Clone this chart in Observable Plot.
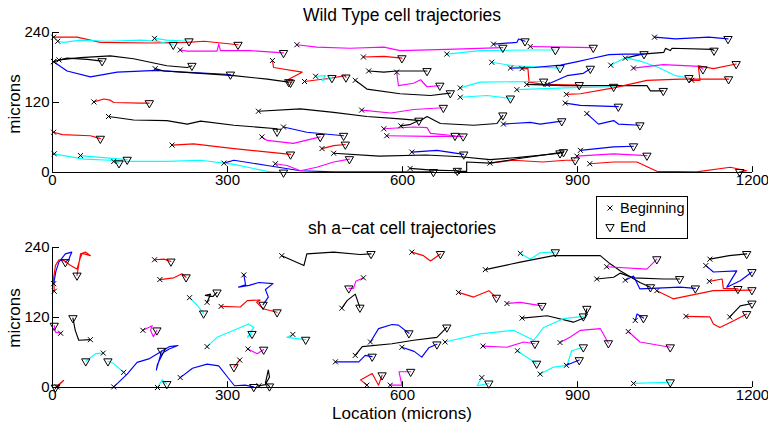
<!DOCTYPE html>
<html>
<head>
<meta charset="utf-8">
<script src="https://cdn.jsdelivr.net/npm/d3@7"></script>
<script src="https://cdn.jsdelivr.net/npm/@observablehq/plot@0.6"></script>
<style>
  body { margin: 0; background: white; }
  #wrap { position: relative; width: 768px; height: 422px; background: white; font-family: "Liberation Sans", Arial, sans-serif; color: black; overflow: hidden; }
  .abs { position: absolute; }
  .title { left: 52px; width: 700px; text-align: center; font-size: 17.5px; line-height: 20px; white-space: nowrap; }
  .xlab { left: 52px; width: 700px; text-align: center; font-size: 17px; line-height: 16px; white-space: nowrap; }
  .ylab { font-size: 17px; line-height: 18px; transform: rotate(-90deg); transform-origin: center; white-space: nowrap; width: 80px; text-align: center; }
</style>
</head>
<body>
<div id="wrap"></div>
<script>
// ---------------- DATA ----------------
const xTicks = [0, 300, 600, 900, 1200];
const yTicks = [0, 120, 240];
const panelTitles = ["Wild Type cell trajectories", "sh a\u2212cat cell trajectories"];
const xLabel = "Location (microns)";
const yLabel = "microns";
const legendLabels = ["Beginning", "End"];
const lineColors = { r: "#ff0000", b: "#0000ff", k: "#000000", m: "#ff00ff", c: "#00ffff" };

// each track: [color, [x0,y0, x1,y1, ...]]  first point = beginning, last = end (microns)
const wildTypeTracks = [
  ["r", [2,232, 42,232, 82,223, 168,222, 231,223, 260,225, 318,219]],
  ["c", [9,225, 19,223, 48,227, 94,225, 151,227, 180,225, 207,219]],
  ["c", [175,230, 196,227, 234,225]],
  ["m", [219,210, 231,208, 282,208, 285,220, 288,209, 339,209, 396,205]],
  ["m", [419,219, 453,215, 510,213, 568,215, 596,209, 676,211, 772,214]],
  ["c", [676,203, 733,209, 819,210, 862,210]],
  ["b", [756,220, 796,223, 799,229, 810,225]],
  ["m", [819,216, 876,215, 927,214]],
  ["b", [1032,232, 1068,229, 1125,232, 1158,229]],
  ["k", [982,196, 1011,203, 1048,206, 1051,213, 1059,209, 1062,213, 1131,211, 1134,209]],
  ["c", [957,184, 982,197, 1011,190, 1039,180, 1068,166, 1091,162]],
  ["c", [753,189, 790,183, 870,179]],
  ["b", [785,179, 825,180, 871,184, 900,190, 922,195, 954,202, 982,203, 1014,203]],
  ["r", [805,178, 815,178, 817,155, 842,151, 903,150]],
  ["k", [813,151, 876,149, 1019,149, 1025,140, 1047,140]],
  ["b", [848,151, 882,166, 910,170, 922,178]],
  ["c", [699,145, 733,155, 836,156, 842,156]],
  ["r", [881,134, 905,135, 962,145, 1019,158, 1076,160, 1159,160]],
  ["c", [796,142, 880,145, 962,147]],
  ["m", [996,179, 1047,185, 1110,182, 1115,177]],
  ["r", [1096,158, 1110,158, 1107,183, 1133,178, 1172,186]],
  ["c", [699,129, 745,132, 785,127]],
  ["b", [879,119, 905,115, 970,113]],
  ["b", [916,101, 936,83, 962,89, 970,83, 1007,81]],
  ["k", [353,105, 425,109, 482,103, 539,96, 596,92, 631,89, 642,96, 665,84, 722,81, 762,84, 772,98]],
  ["b", [773,83, 819,86, 836,83, 873,88]],
  ["m", [530,107, 580,102, 619,108, 670,111]],
  ["k", [597,80, 612,82, 628,89]],
  ["m", [568,75, 619,78, 642,77, 648,67, 690,63]],
  ["m", [573,63, 648,62, 704,62]],
  ["b", [616,35, 659,38, 705,31]],
  ["k", [482,33, 560,28, 640,30, 700,27, 750,22, 800,26, 870,33]],
  ["r", [750,16, 790,21, 840,18, 880,21, 896,21]],
  ["b", [905,38, 962,44, 996,45]],
  ["m", [899,28, 962,32, 1019,29]],
  ["r", [921,15, 962,18, 1002,18, 1036,2, 1104,1, 1162,9, 1190,3, 1178,1]],
  ["b", [294,16, 311,21, 368,12, 425,3, 482,1, 596,1, 653,1]],
  ["k", [613,7, 650,4, 694,3]],
  ["k", [694,2, 710,2, 710,18, 750,16, 800,24, 876,35]],
  ["k", [2,190, 25,196, 60,194, 85,191]],
  ["k", [11,193, 48,197, 99,200, 139,195, 196,183, 231,180, 239,183]],
  ["b", [2,190, 25,174, 65,164, 111,172, 179,175, 225,172, 305,168]],
  ["k", [176,178, 191,174, 254,170, 311,166, 368,160, 405,155]],
  ["k", [519,158, 539,143, 596,135, 648,132, 682,136]],
  ["k", [542,174, 568,172, 590,174, 642,174]],
  ["m", [590,172, 593,149, 619,153, 631,159, 642,147, 664,149]],
  ["r", [533,198, 568,199, 599,196]],
  ["r", [377,192, 379,180, 428,172, 405,160, 408,154]],
  ["r", [432,156, 479,162, 502,166, 503,163]],
  ["c", [451,165, 468,166, 462,158, 479,162]],
  ["r", [71,121, 88,126, 99,124, 105,120, 151,119, 166,119]],
  ["k", [96,96, 139,90, 196,89, 231,83, 254,88, 311,81, 385,75, 385,70]],
  ["b", [396,78, 436,69, 499,63]],
  ["r", [2,69, 17,65, 65,63, 82,58]],
  ["m", [359,61, 368,55, 413,50, 459,61]],
  ["r", [205,47, 242,49, 311,41, 408,31]],
  ["r", [462,41, 482,46, 502,48]],
  ["c", [3,32, 19,29, 54,23, 99,21, 114,16]],
  ["c", [48,29, 82,26, 128,22]],
  ["c", [105,19, 196,19, 254,21, 311,14, 368,2, 396,0]],
  ["m", [382,15, 402,12, 425,3, 453,9, 482,18, 509,23]]
];

const shCatTracks = [
  ["r", [3,165, 2,188, 5,209, 11,219, 19,218, 31,209, 42,203, 48,223, 51,230, 65,226, 57,232, 48,229, 42,192]],
  ["b", [2,178, 6,200, 11,215, 22,229, 33,232, 28,220, 22,215]],
  ["r", [175,219, 191,220, 203,216]],
  ["r", [184,185, 208,188, 222,195, 229,189]],
  ["b", [328,193, 331,176, 319,172, 337,175, 354,180, 378,178, 365,168, 370,155, 361,142]],
  ["r", [289,139, 322,138, 334,149, 356,150, 350,146, 361,135, 385,129]],
  ["k", [265,146, 271,160, 262,158, 275,156, 282,163]],
  ["c", [235,154, 248,141, 259,127]],
  ["m", [155,98, 171,106, 168,98, 173,87, 179,98]],
  ["m", [14,93, 5,95, 3,106]],
  ["k", [65,82, 45,81, 39,98, 35,119]],
  ["c", [87,59, 74,58, 57,45]],
  ["c", [122,26, 105,41, 95,45]],
  ["b", [105,1, 128,23, 145,43, 165,49, 180,58, 200,70, 215,72, 200,66, 190,60, 180,40, 178,30, 185,55, 187,63]],
  ["c", [180,0, 188,13, 196,6]],
  ["b", [219,17, 240,33, 265,40, 285,37, 300,18, 312,3, 330,4, 345,1]],
  ["r", [321,47, 311,35]],
  ["c", [265,70, 282,86, 311,98, 336,109, 345,103, 334,86, 342,92]],
  ["m", [335,66, 351,58, 362,65]],
  ["c", [412,91, 402,86, 434,82]],
  ["r", [8,1, 19,12, 5,0]],
  ["k", [354,3, 365,5, 372,18, 370,30, 365,8, 372,2]],
  ["k", [393,226, 431,209, 436,229, 482,232, 527,228, 546,229]],
  ["m", [533,188, 520,182, 516,170, 508,170]],
  ["k", [496,136, 505,149, 519,160, 527,137]],
  ["r", [616,232, 636,226, 648,217, 665,229]],
  ["c", [802,230, 819,220, 836,231, 862,232]],
  ["k", [742,202, 802,215, 859,226, 939,226, 956,212, 973,200, 1007,180, 1025,172]],
  ["m", [950,207, 1019,203, 1036,220]],
  ["k", [933,186, 962,189, 973,196, 996,188, 1047,186, 1075,186]],
  ["b", [982,184, 996,191, 1007,169, 1076,172, 1102,170]],
  ["r", [1036,166, 1064,152, 1133,166, 1199,167]],
  ["b", [1120,209, 1133,198, 1173,200, 1156,172, 1179,183, 1199,198]],
  ["k", [1127,220, 1160,226, 1190,229]],
  ["r", [1126,182, 1148,186, 1150,170, 1175,169]],
  ["r", [696,163, 722,155, 748,166, 761,154]],
  ["m", [779,144, 802,146, 839,140]],
  ["k", [805,119, 848,123, 893,112, 913,120, 916,135]],
  ["r", [1086,122, 1127,121, 1133,109, 1144,103, 1167,114, 1190,126]],
  ["k", [1161,121, 1179,140, 1199,144]],
  ["b", [999,115, 1002,126, 1013,119]],
  ["c", [673,78, 733,92, 790,98, 825,81, 842,103, 876,118, 910,122]],
  ["k", [519,55, 531,70, 582,75, 619,81, 659,86, 676,103]],
  ["b", [545,78, 559,101, 582,108, 593,107, 611,93]],
  ["b", [485,44, 525,44, 536,55, 548,53]],
  ["b", [599,69, 620,62, 633,52, 645,68, 659,74]],
  ["m", [738,71, 779,69, 808,78, 827,75]],
  ["m", [870,77, 887,86, 905,98, 939,101, 953,76]],
  ["m", [987,96, 1007,78, 1059,69]],
  ["c", [797,63, 813,52, 830,41]],
  ["c", [836,23, 859,35, 882,38, 890,63, 910,69]],
  ["b", [881,38, 903,47]],
  ["c", [736,17, 728,3, 748,7]],
  ["c", [996,7, 1059,9]],
  ["r", [539,4, 528,13, 548,24, 559,4, 565,21]],
  ["m", [579,4, 599,4, 594,27, 614,27]]
];

// ---------------- BUILD ----------------
function toRows(tracks) {
  const rows = [], starts = [], ends = [];
  tracks.forEach(([c, pts], id) => {
    const n = pts.length / 2;
    for (let i = 0; i < n; i++) rows.push({id, x: pts[2*i], y: pts[2*i+1], color: lineColors[c]});
    starts.push({x: pts[0], y: pts[1]});
    ends.push({x: pts[2*n-2], y: pts[2*n-1]});
  });
  return {rows, starts, ends};
}

function panel(tracks, height, marginTop, marginBottom) {
  const {rows, starts, ends} = toRows(tracks);
  return Plot.plot({
    width: 768, height,
    marginLeft: 52, marginRight: 16, marginTop, marginBottom,
    style: {fontFamily: "'Liberation Sans', Arial, sans-serif", fontSize: "15px", background: "transparent", overflow: "visible"},
    x: {domain: [0, 1200]},
    y: {domain: [0, 240]},
    color: {type: "identity"},
    marks: [
      Plot.line(rows, {x: "x", y: "y", z: "id", stroke: "color", strokeWidth: 1.15, curve: "linear"}),
      Plot.dot(starts, {x: "x", y: "y", symbol: "times", r: 2.4, stroke: "black", strokeWidth: 1}),
      Plot.dot(ends, {x: "x", y: "y", symbol: "triangle", r: 3.1, rotate: 180, stroke: "black", fill: "none", strokeWidth: 1}),
      Plot.ruleY([0], {stroke: "black", strokeWidth: 1}),
      Plot.ruleX([0], {stroke: "black", strokeWidth: 1}),
      Plot.ruleX(xTicks, {x: d => d, y1: 0, y2: 10, stroke: "black"}),
      Plot.ruleY(yTicks, {y: d => d, x1: 0, x2: 12, stroke: "black"}),
      Plot.axisX({ticks: xTicks, tickSize: 0, tickPadding: 2, label: null, tickFormat: d => String(d)}),
      Plot.axisY({ticks: yTicks, tickSize: 0, tickPadding: 3, label: null, tickFormat: d => String(d)})
    ]
  });
}

const wrap = document.getElementById("wrap");

const top1 = panel(wildTypeTracks, 192, 32, 20);
top1.style.position = "absolute"; top1.style.left = "0px"; top1.style.top = "0px";
wrap.appendChild(top1);

const bot = panel(shCatTracks, 207, 47, 20);
bot.style.position = "absolute"; bot.style.left = "0px"; bot.style.top = "200px";
wrap.appendChild(bot);

function addDiv(cls, text, css) {
  const d = document.createElement("div");
  d.className = "abs " + cls;
  d.textContent = text;
  Object.assign(d.style, css);
  wrap.appendChild(d);
  return d;
}
addDiv("title", panelTitles[0], {top: "5px"});
addDiv("title", panelTitles[1], {top: "218px"});
addDiv("xlab", xLabel, {top: "406px"});
addDiv("ylab", yLabel, {left: "-25px", top: "95px"});
addDiv("ylab", yLabel, {left: "-25px", top: "309px"});

// legend
const leg = document.createElement("div");
leg.className = "abs";
Object.assign(leg.style, {left: "596px", top: "196px", width: "90px", height: "41px", border: "1px solid black", background: "white", fontSize: "14.5px", lineHeight: "18px"});
const ns = "http://www.w3.org/2000/svg";
legendLabels.forEach((lab, i) => {
  const row = document.createElement("div");
  Object.assign(row.style, {position: "absolute", left: "0px", top: (2 + i * 19) + "px", height: "18px", width: "90px"});
  const s = document.createElementNS(ns, "svg");
  s.setAttribute("width", "20"); s.setAttribute("height", "18");
  s.style.position = "absolute"; s.style.left = "4px"; s.style.top = "0px";
  const p = document.createElementNS(ns, "path");
  p.setAttribute("d", i === 0 ? d3.symbol(d3.symbolTimes, 2.4 * 2.4 * Math.PI)() : d3.symbol(d3.symbolTriangle, 3.1 * 3.1 * Math.PI)());
  p.setAttribute("transform", i === 0 ? "translate(9,9)" : "translate(9,9) rotate(180)");
  p.setAttribute("stroke", "black"); p.setAttribute("fill", "none"); p.setAttribute("stroke-width", "1");
  s.appendChild(p);
  row.appendChild(s);
  const t = document.createElement("span");
  t.textContent = lab;
  Object.assign(t.style, {position: "absolute", left: "23px", top: "0px"});
  row.appendChild(t);
  leg.appendChild(row);
});
wrap.appendChild(leg);
</script>
</body>
</html>
